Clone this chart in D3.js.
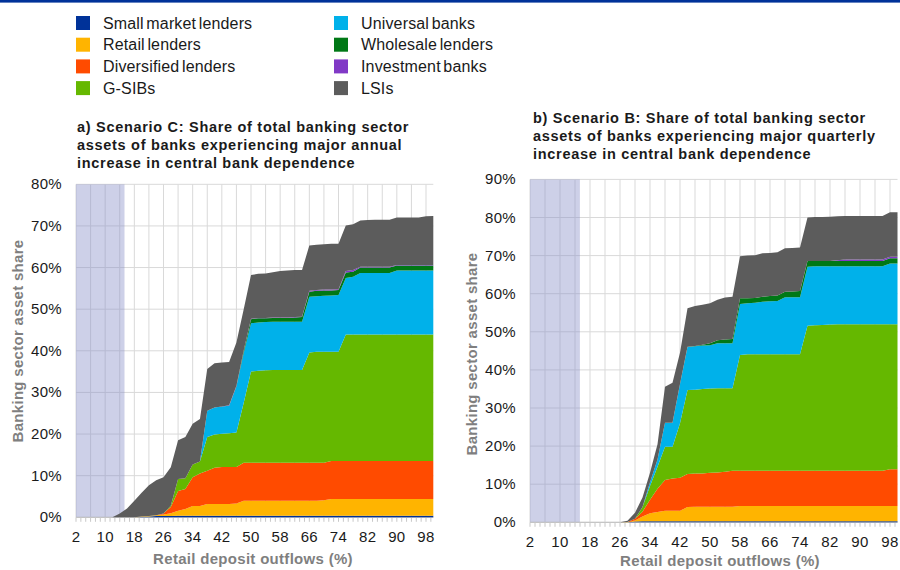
<!DOCTYPE html>
<html><head><meta charset="utf-8">
<script src="https://cdn.jsdelivr.net/npm/d3@7/dist/d3.min.js"></script>
<style>body{margin:0;background:#fff;} svg{display:block;font-family:"Liberation Sans",Arial,sans-serif;}</style>
</head><body><svg id="c" width="900" height="570"></svg>
<script>
// ---------- DATA ----------
const outflows = [2,4,6,8,10,12,14,16,18,20,22,24,26,28,30,32,34,36,38,40,42,44,46,48,50,52,54,56,58,60,62,64,66,68,70,72,74,76,78,80,82,84,86,88,90,92,94,96,98,100];
const xTickLabels = [2,10,18,26,34,42,50,58,66,74,82,90,98];
const seriesNames = ["Small market lenders","Retail lenders","Diversified lenders","G-SIBs","Universal banks","Wholesale lenders","Investment banks","LSIs"];
const seriesColors = ["#003299","#FFB400","#FF4B00","#65B800","#00B1EA","#007816","#8139C6","#5C5C5C"];
const shadedRange = [2, 15.3];

// a) Scenario C (annual) – % of total banking sector assets
const cSmall  = [0,0,0,0,0,0,0,0,0,0.1,0.2,0.3,0.3,0.3,0.4,0.4,0.4,0.4,0.4,0.4,0.4,0.4,0.4,0.4,0.4,0.4,0.4,0.4,0.4,0.4,0.4,0.4,0.4,0.4,0.4,0.4,0.4,0.4,0.4,0.4,0.4,0.4,0.4,0.4,0.4,0.4,0.4,0.4,0.4,0.4];
const cRetail = [0,0,0,0,0,0,0,0,0,0.1,0.1,0.2,0.4,0.7,1.2,1.6,2.3,2.3,2.8,2.8,2.8,2.8,2.9,3.6,3.6,3.6,3.6,3.6,3.6,3.6,3.6,3.6,3.6,3.6,3.7,4.0,4.0,4.0,4.0,4.0,4.0,4.0,4.0,4.0,4.0,4.0,4.0,4.0,4.0,4.0];
const cDivers = [0,0,0,0,0,0,0,0,0,0,0,0,0.2,1.5,4.7,4.8,6.9,7.8,8.0,8.7,8.9,8.9,8.8,9.1,9.1,9.1,9.1,9.1,9.1,9.1,9.1,9.1,9.1,9.1,9.0,9.1,9.1,9.1,9.1,9.1,9.1,9.1,9.1,9.1,9.1,9.1,9.1,9.1,9.1,9.1];
const cGsib   = [0,0,0,0,0,0,0,0,0,0,0,0,0,0.3,2.9,2.6,3.1,2.9,8.1,8.0,8.0,8.1,8.3,14.4,21.9,22.1,22.2,22.3,22.3,22.3,22.3,22.3,26.5,26.7,26.7,26.3,26.3,30.4,30.4,30.4,30.4,30.4,30.4,30.4,30.4,30.4,30.4,30.4,30.4,30.4];
const cUniv   = [0,0,0,0,0,0,0,0,0,0,0,0,0,0,0,0,0,0,6.3,6.5,6.5,6.6,11.0,12.0,11.6,11.6,11.6,11.6,11.6,11.6,11.6,11.6,13.4,13.3,13.4,13.5,13.6,13.6,13.9,14.8,14.8,14.8,14.8,14.8,15.4,15.4,15.4,15.4,15.4,15.4];
const cWhole  = [0,0,0,0,0,0,0,0,0,0,0,0,0,0,0,0,0,0,0,0,0,0,0.1,0.5,1.0,1.0,0.9,0.9,0.9,0.9,1.0,1.1,1.2,1.3,1.3,1.2,1.2,1.3,1.2,1.3,1.3,1.3,1.3,1.3,1.2,1.2,1.2,1.2,1.2,1.2];
const cInvest = [0,0,0,0,0,0,0,0,0,0,0,0,0,0,0,0,0,0,0,0,0,0.1,0.1,0.1,0.1,0.1,0.1,0.1,0.1,0.1,0.1,0.1,0.2,0.2,0.2,0.2,0.2,0.4,0.4,0.2,0.2,0.2,0.2,0.2,0.1,0.1,0.1,0.1,0.1,0.1];
const cLsi    = [0,0,0,0,0,0,0.9,2.1,4.0,5.7,7.4,8.4,8.7,9.2,9.3,9.9,9.8,10.2,10.0,10.6,10.6,10.4,10.4,9.9,10.5,10.6,10.7,10.9,11.2,11.3,11.3,11.2,10.9,10.9,10.9,11.0,10.9,10.9,11.0,11.1,11.2,11.3,11.3,11.3,11.4,11.4,11.4,11.4,11.7,11.8];

// b) Scenario B (quarterly)
const bSmall  = [0,0,0,0,0,0,0,0,0,0,0,0,0,0,0.2,0.3,0.3,0.3,0.3,0.3,0.3,0.3,0.3,0.3,0.3,0.3,0.3,0.3,0.3,0.3,0.3,0.3,0.3,0.3,0.3,0.3,0.3,0.3,0.3,0.3,0.3,0.3,0.3,0.3,0.3,0.3,0.3,0.3,0.3,0.3];
const bRetail = [0,0,0,0,0,0,0,0,0,0,0,0,0,0.1,0.3,1.2,2.1,2.4,2.7,2.7,2.7,3.7,3.8,3.8,3.8,3.8,3.8,3.8,4.0,4.0,4.0,4.0,4.0,4.0,4.0,4.0,4.0,4.0,4.0,4.0,4.0,4.0,4.0,4.0,4.0,4.0,4.0,4.0,4.0,4.0];
const bDivers = [0,0,0,0,0,0,0,0,0,0,0,0,0,0,0.4,1.3,3.5,6.1,8.1,8.5,8.7,8.7,8.7,8.7,8.9,9.0,9.2,9.4,9.2,9.2,9.2,9.2,9.2,9.2,9.2,9.2,9.2,9.2,9.2,9.2,9.2,9.2,9.2,9.2,9.2,9.2,9.2,9.2,9.6,9.6];
const bGsib   = [0,0,0,0,0,0,0,0,0,0,0,0,0,0,0,1.2,3.6,5.8,8.7,8.3,14.3,22.0,22.0,22.2,22.1,22.1,21.9,21.7,30.4,30.6,30.6,30.6,30.6,30.6,30.6,30.6,30.6,38.1,38.2,38.3,38.4,38.5,38.5,38.5,38.5,38.5,38.5,38.5,38.1,38.1];
const bUniv   = [0,0,0,0,0,0,0,0,0,0,0,0,0,0,0,0,1.0,1.9,6.3,6.3,10.3,11.3,11.4,11.4,11.4,11.8,11.8,11.8,13.4,13.4,13.5,13.8,13.9,14.0,15.0,15.0,15.0,15.5,15.5,15.4,15.3,15.2,15.2,15.2,15.2,15.2,15.2,15.2,15.9,15.9];
const bWhole  = [0,0,0,0,0,0,0,0,0,0,0,0,0,0,0,0,0,0,0,0,0,0.1,0.1,0.2,0.5,0.8,1.0,1.1,1.5,1.3,1.3,1.3,1.4,1.4,1.4,1.5,1.6,1.5,1.4,1.4,1.4,1.4,1.4,1.4,1.4,1.4,1.4,1.4,1.4,1.4];
const bInvest = [0,0,0,0,0,0,0,0,0,0,0,0,0,0,0,0,0,0,0,0,0,0,0,0,0,0,0,0,0,0,0,0,0,0,0,0,0,0,0,0,0,0.2,0.4,0.4,0.4,0.4,0.4,0.4,0.4,0.4];
const bLsi    = [0,0,0,0,0,0,0,0,0,0,0,0,0,0.3,1.6,2.5,2.5,4.0,9.5,10.5,8.2,10.1,10.5,10.5,10.5,10.6,11.0,11.1,11.0,11.2,11.2,11.4,11.3,11.4,11.4,11.4,11.4,11.4,11.5,11.5,11.6,11.5,11.4,11.4,11.4,11.4,11.4,11.4,11.7,11.7];

const leftTitle  = ["a) Scenario C: Share of total banking sector","assets of banks experiencing major annual","increase in central bank dependence"];
const rightTitle = ["b) Scenario B: Share of total banking sector","assets of banks experiencing major quarterly","increase in central bank dependence"];
const yTitle = "Banking sector asset share";
const xTitle = "Retail deposit outflows (%)";
const leftYTicks  = [0,10,20,30,40,50,60,70,80];
const rightYTicks = [0,10,20,30,40,50,60,70,80,90];

// ---------- DRAW ----------
const svg = d3.select("#c");
svg.append("rect").attr("width",900).attr("height",570).attr("fill","#fff");
svg.append("rect").attr("x",0).attr("y",0).attr("width",900).attr("height",2.6).attr("fill","#003299");

// legend
const legendCols = [[0,1,2,3],[4,5,6,7]];
const legX = [76, 334];
legendCols.forEach((col,ci)=>{
  col.forEach((si,ri)=>{
    const y = 16 + ri*21.7;
    svg.append("rect").attr("x",legX[ci]).attr("y",y).attr("width",14).attr("height",14).attr("fill",seriesColors[si]);
    svg.append("text").attr("x",legX[ci]+27).attr("y",y+12.5)
      .attr("font-size",16).attr("fill","#1a1a1a").style("word-spacing","-2px").style("letter-spacing","0.15px")
      .text(seriesNames[si]);
  });
});

function buildRows(arrs){
  return outflows.map((x,i)=>{
    const r = {x};
    seriesNames.forEach((n,k)=>{ r[n] = arrs[k][i]; });
    return r;
  });
}

function panel(cfg){
  const g = svg.append("g");
  const x = d3.scaleLinear().domain([2,100]).range([cfg.x0,cfg.x1]);
  const y = d3.scaleLinear().domain([0,cfg.yMax]).range([cfg.y0,cfg.y1]);
  cfg.yTicks.forEach(t=>{
    g.append("line").attr("x1",cfg.x0).attr("x2",cfg.x1).attr("y1",y(t)).attr("y2",y(t))
      .attr("stroke","#d9d9d9").attr("stroke-width",1);
  });
  d3.range(2, 99, 4).forEach(t=>{
    g.append("line").attr("x1",x(t)).attr("x2",x(t)).attr("y1",y(0)).attr("y2",y(cfg.yMax))
      .attr("stroke","#d9d9d9").attr("stroke-width",1);
  });
  g.append("rect").attr("x",x(shadedRange[0])).attr("y",y(cfg.yMax))
    .attr("width",x(shadedRange[1])-x(shadedRange[0])).attr("height",y(0)-y(cfg.yMax))
    .attr("fill","#8890c8").attr("fill-opacity",0.42);
  g.append("line").attr("x1",cfg.x0).attr("x2",cfg.x1).attr("y1",y(0)).attr("y2",y(0))
    .attr("stroke","#bfbfbf").attr("stroke-width",1);
  const tickStep = 4/3;
  for(let t=2; t<=100.001; t+=tickStep){
    g.append("line").attr("x1",x(t)).attr("x2",x(t)).attr("y1",y(0)).attr("y2",y(0)+4.5)
      .attr("stroke","#c8c8c8").attr("stroke-width",1);
  }
  const rows = buildRows(cfg.data);
  const stack = d3.stack().keys(seriesNames)(rows);
  const area = d3.area().x(d=>x(d.data.x)).y0(d=>y(d[0])).y1(d=>y(d[1]));
  stack.forEach((s,k)=>{
    g.append("path").attr("d",area(s)).attr("fill",seriesColors[k]).attr("stroke","none");
  });
  cfg.yTicks.forEach(t=>{
    g.append("text").attr("x",cfg.x0-14).attr("y",y(t)+5).attr("text-anchor","end")
      .attr("font-size",15).style("letter-spacing","0.3px").attr("fill","#1a1a1a").text(t+"%");
  });
  xTickLabels.forEach(t=>{
    g.append("text").attr("x",x(t)).attr("y",cfg.y0+25).attr("text-anchor","middle")
      .attr("font-size",15).style("letter-spacing","0.3px").attr("fill","#1a1a1a").text(t);
  });
  cfg.title.forEach((line,i)=>{
    g.append("text").attr("x",cfg.titleX).attr("y",cfg.titleY+i*18).attr("font-weight","bold")
      .attr("font-size",14.5).style("letter-spacing","0.7px").attr("fill","#1a1a1a").text(line);
  });
  g.append("text").attr("x",cfg.xTitleX).attr("y",cfg.xTitleY).attr("text-anchor","middle")
    .attr("font-weight","bold").attr("font-size",15).style("letter-spacing","0.3px").attr("fill","#7f7f7f").text(xTitle);
  g.append("text").attr("transform",`translate(${cfg.yTitleX},${cfg.yTitleY}) rotate(-90)`)
    .attr("text-anchor","middle").attr("font-weight","bold").attr("font-size",15).style("letter-spacing","0.3px")
    .attr("fill","#7f7f7f").text(yTitle);
}

panel({x0:76, x1:433.3, y0:517.3, y1:184.3, yMax:80, yTicks:leftYTicks,
  data:[cSmall,cRetail,cDivers,cGsib,cUniv,cWhole,cInvest,cLsi],
  title:leftTitle, titleX:77, titleY:132, xTitleX:253, xTitleY:564, yTitleX:23, yTitleY:341});
panel({x0:530, x1:897.5, y0:522.3, y1:179.4, yMax:90, yTicks:rightYTicks,
  data:[bSmall,bRetail,bDivers,bGsib,bUniv,bWhole,bInvest,bLsi],
  title:rightTitle, titleX:533, titleY:123, xTitleX:720, xTitleY:565.5, yTitleX:477, yTitleY:354});
</script></body></html>
